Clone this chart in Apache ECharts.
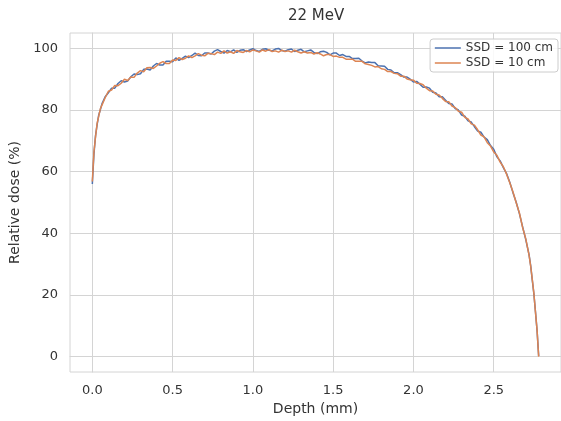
<!DOCTYPE html>
<html>
<head>
<meta charset="utf-8">
<script src="https://cdn.jsdelivr.net/npm/echarts@6/dist/echarts.min.js"></script>
<style>
html,body{margin:0;padding:0;background:#fff;}
#chart{width:561px;height:421px;}
</style>
</head>
<body>
<div id="chart"></div>
<script>
const titleText = '22 MeV';
const xName = 'Depth (mm)';
const yName = 'Relative dose (%)';
const seriesNames = ['SSD = 100 cm', 'SSD = 10 cm'];
const xTicks = [0, 0.5, 1.0, 1.5, 2.0, 2.5];
const yTicks = [0, 20, 40, 60, 80, 100];

const depth = [
  0, 0.01, 0.02, 0.03, 0.04, 0.05, 0.06, 0.08, 0.10, 0.12,
  0.14, 0.16, 0.18, 0.20, 0.22, 0.24, 0.26, 0.28, 0.30, 0.32,
  0.34, 0.36, 0.38, 0.40, 0.42, 0.44, 0.46, 0.48, 0.50, 0.52,
  0.54, 0.56, 0.58, 0.60, 0.62, 0.64, 0.66, 0.68, 0.70, 0.72,
  0.74, 0.76, 0.78, 0.80, 0.82, 0.84, 0.86, 0.88, 0.90, 0.92,
  0.94, 0.96, 0.98, 1.00, 1.02, 1.04, 1.06, 1.08, 1.10, 1.12,
  1.14, 1.16, 1.18, 1.20, 1.22, 1.24, 1.26, 1.28, 1.30, 1.32,
  1.34, 1.36, 1.38, 1.40, 1.42, 1.44, 1.46, 1.48, 1.50, 1.52,
  1.54, 1.56, 1.58, 1.60, 1.62, 1.64, 1.66, 1.68, 1.70, 1.72,
  1.74, 1.76, 1.78, 1.80, 1.82, 1.84, 1.86, 1.88, 1.90, 1.92,
  1.94, 1.96, 1.98, 2.00, 2.02, 2.04, 2.06, 2.08, 2.10, 2.12,
  2.14, 2.16, 2.18, 2.20, 2.22, 2.24, 2.26, 2.28, 2.30, 2.32,
  2.34, 2.36, 2.38, 2.40, 2.42, 2.44, 2.46, 2.48, 2.50, 2.52,
  2.54, 2.56, 2.58, 2.60, 2.62, 2.64, 2.66, 2.68, 2.70, 2.72,
  2.73, 2.74, 2.75, 2.76, 2.77, 2.78
];

const ssd100 = [
  56.0, 65.6, 71.7, 75.3, 78.4, 80.1, 82.0, 84.3, 85.6, 87.1,
  87.1, 88.6, 89.5, 89.1, 89.4, 90.8, 91.7, 91.5, 91.8, 93.2,
  93.3, 93.0, 94.3, 95.1, 94.6, 94.6, 95.8, 95.8, 95.7, 96.9,
  96.1, 96.8, 97.5, 97.0, 97.7, 98.5, 97.7, 97.6, 98.5, 98.5,
  98.2, 99.1, 99.6, 99.0, 98.5, 99.3, 98.9, 99.5, 98.7, 99.4,
  99.6, 99.0, 99.5, 99.9, 99.3, 99.0, 99.7, 99.9, 99.4, 99.2,
  99.8, 100.0, 99.3, 99.1, 99.6, 99.8, 99.0, 99.4, 99.7, 98.9,
  99.2, 99.5, 98.7, 98.3, 98.9, 99.1, 98.7, 97.9, 98.5, 98.5,
  97.7, 98.0, 97.4, 97.4, 96.7, 96.7, 96.8, 95.9, 95.3, 95.6,
  95.4, 95.4, 94.4, 94.3, 94.2, 93.2, 93.0, 92.1, 92.1, 91.5,
  90.7, 90.7, 90.0, 89.1, 89.3, 88.4, 87.4, 87.5, 87.1, 85.8,
  85.5, 84.3, 84.3, 83.2, 82.1, 82.0, 80.5, 80.0, 78.4, 78.0,
  76.5, 76.1, 74.6, 73.2, 72.8, 71.2, 70.4, 68.5, 67.3, 64.8,
  63.5, 61.3, 59.4, 56.6, 53.2, 50.1, 46.4, 42.1, 37.9, 33.1,
  29.6, 24.9, 20.4, 14.6, 8.4, 0.2
];

const ssd10 = [
  56.8, 66.4, 71.3, 75.7, 78.0, 80.4, 81.6, 84.0, 86.1, 86.5,
  88.0, 87.9, 88.7, 90.0, 89.6, 90.7, 90.6, 92.0, 92.8, 92.4,
  93.7, 93.8, 93.5, 94.3, 95.2, 95.7, 95.1, 95.1, 96.2, 96.1,
  97.0, 96.4, 96.8, 97.6, 97.0, 97.6, 98.3, 97.8, 97.6, 98.4,
  98.3, 98.0, 98.8, 98.4, 99.2, 98.5, 98.9, 98.4, 99.3, 98.9,
  98.7, 99.3, 98.9, 99.5, 99.2, 98.8, 99.5, 99.1, 99.6, 99.0,
  99.2, 98.8, 99.4, 99.0, 99.2, 98.8, 99.4, 98.9, 98.5, 98.9,
  98.5, 98.7, 98.2, 98.6, 98.2, 97.6, 98.0, 98.0, 97.4, 97.5,
  97.1, 97.1, 96.5, 96.5, 96.5, 95.8, 95.8, 95.8, 95.0, 94.8,
  94.5, 94.0, 94.1, 93.4, 93.2, 92.5, 92.5, 91.9, 91.8, 91.0,
  91.0, 90.1, 89.8, 89.7, 88.7, 88.6, 88.2, 87.1, 86.3, 86.2,
  85.1, 84.9, 83.8, 82.8, 82.7, 81.3, 80.8, 79.6, 79.3, 77.6,
  77.1, 75.5, 75.1, 73.6, 71.9, 71.3, 69.4, 68.3, 66.4, 65.3,
  63.1, 61.6, 59.2, 56.4, 53.4, 49.9, 46.6, 41.9, 38.1, 32.9,
  29.4, 25.1, 20.6, 14.4, 8.6, 0.0
];

const colors = ['#4c72b0', '#dd8452'];
const font = 'DejaVu Sans';
const textColor = '#333333';
const gridColor = '#d4d4d4';

const chart = echarts.init(document.getElementById('chart'), null, {renderer: 'canvas'});
chart.setOption({
  animation: false,
  backgroundColor: '#ffffff',
  title: {
    text: titleText,
    left: 288,
    top: 9,
    padding: 0,
    textStyle: {fontFamily: font, fontSize: 15, fontWeight: 'normal', color: textColor}
  },
  legend: {
    orient: 'vertical',
    right: 3,
    top: 39,
    padding: [3, 5, 3, 4],
    itemGap: 3,
    itemWidth: 26,
    itemHeight: 12,
    backgroundColor: 'rgba(255,255,255,0.85)',
    borderColor: '#cccccc',
    borderWidth: 1,
    borderRadius: 3,
    itemStyle: {opacity: 0},
    lineStyle: {width: 1.5},
    textStyle: {fontFamily: font, fontSize: 12, color: textColor, lineHeight: 12},
    data: seriesNames
  },
  grid: {
    left: 70,
    top: 33,
    width: 495.4,
    bottom: 45,
    show: true,
    borderColor: gridColor,
    borderWidth: 1,
    containLabel: false
  },
  xAxis: {
    type: 'value',
    min: -0.139,
    max: 2.919,
    name: xName,
    nameLocation: 'middle',
    nameGap: 30,
    nameTextStyle: {fontFamily: font, fontSize: 14, color: textColor},
    axisLine: {show: true, lineStyle: {color: gridColor}},
    axisTick: {show: false, customValues: xTicks},
    axisLabel: {
      customValues: xTicks,
      margin: 12,
      fontFamily: font, fontSize: 13, color: textColor,
      formatter: v => Number(v).toFixed(1)
    },
    splitLine: {show: true, lineStyle: {color: gridColor, width: 1}}
  },
  yAxis: {
    type: 'value',
    min: -5,
    max: 105,
    name: yName,
    nameLocation: 'middle',
    nameGap: 38,
    nameTextStyle: {fontFamily: font, fontSize: 14, color: textColor},
    axisLine: {show: true, lineStyle: {color: gridColor}},
    axisTick: {show: false, customValues: yTicks},
    axisLabel: {
      customValues: yTicks,
      margin: 12,
      fontFamily: font, fontSize: 13, color: textColor,
      formatter: v => String(Math.round(v))
    },
    splitLine: {show: true, lineStyle: {color: gridColor, width: 1}}
  },
  series: [
    {
      name: seriesNames[0],
      type: 'line',
      showSymbol: false,
      symbol: 'none',
      color: colors[0],
      lineStyle: {width: 1.5, color: colors[0]},
      data: depth.map((d, i) => [d, ssd100[i]])
    },
    {
      name: seriesNames[1],
      type: 'line',
      showSymbol: false,
      symbol: 'none',
      color: colors[1],
      lineStyle: {width: 1.5, color: colors[1]},
      data: depth.map((d, i) => [d, ssd10[i]])
    }
  ]
});
</script>
</body>
</html>
